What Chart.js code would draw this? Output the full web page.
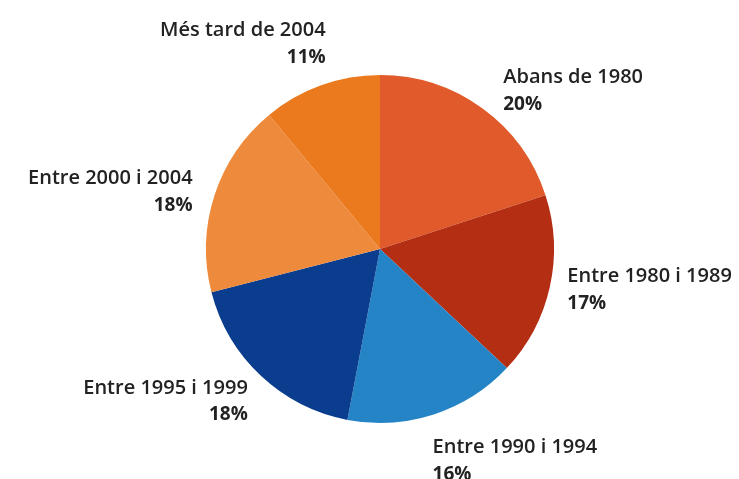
<!DOCTYPE html>
<html>
<head>
<meta charset="utf-8">
<script src="https://cdn.jsdelivr.net/npm/chart.js@4"></script>
<style>
  html, body { margin: 0; padding: 0; background: #fff; }
  #wrap { width: 739px; height: 479px; }
</style>
</head>
<body>
<div id="wrap"><canvas id="grafico"></canvas></div>
<script>
const categories = ['Abans de 1980', 'Entre 1980 i 1989', 'Entre 1990 i 1994', 'Entre 1995 i 1999', 'Entre 2000 i 2004', 'Més tard de 2004'];
const percentages = [20, 17, 16, 18, 18, 11];
const sliceColors = ['#E05A2B', '#B42E14', '#2484C6', '#0B3D8F', '#EE8A3B', '#EB7A1F'];

// small nudges for each label, relative to the arc mid-angle anchor
const labelNudges = [[8, 0], [-4, -2], [-8, 25], [2, 9], [-1, 3], [12, -21]];

const sliceLabels = {
    id: 'sliceLabels',
    afterDatasetsDraw(chart) {
        const ctx = chart.ctx;
        const meta = chart.getDatasetMeta(0);
        ctx.save();
        ctx.fillStyle = '#222';
        ctx.textBaseline = 'middle';
        meta.data.forEach((arc, i) => {
            const p = arc.getProps(['x', 'y', 'startAngle', 'endAngle', 'outerRadius'], true);
            const mid = (p.startAngle + p.endAngle) / 2;
            const r = p.outerRadius + 22;
            const x = p.x + Math.cos(mid) * r + labelNudges[i][0];
            const y = p.y + Math.sin(mid) * r + labelNudges[i][1];
            ctx.textAlign = x > p.x ? 'left' : 'right';
            ctx.font = '600 20px "Open Sans"';
            ctx.fillText(categories[i], x, y - 13);
            ctx.font = '700 19px "Open Sans"';
            ctx.fillText(percentages[i] + '%', x, y + 14);
        });
        ctx.restore();
    }
};

new Chart(document.getElementById('grafico'), {
    type: 'pie',
    data: {
        labels: categories,
        datasets: [{
            data: percentages,
            backgroundColor: sliceColors,
            borderWidth: 0
        }]
    },
    options: {
        responsive: true,
        maintainAspectRatio: false,
        animation: false,
        layout: { padding: { top: 75, bottom: 56, left: 206, right: 185 } },
        plugins: {
            legend: { display: false },
            tooltip: { enabled: false }
        }
    },
    plugins: [sliceLabels]
});
</script>
</body>
</html>
